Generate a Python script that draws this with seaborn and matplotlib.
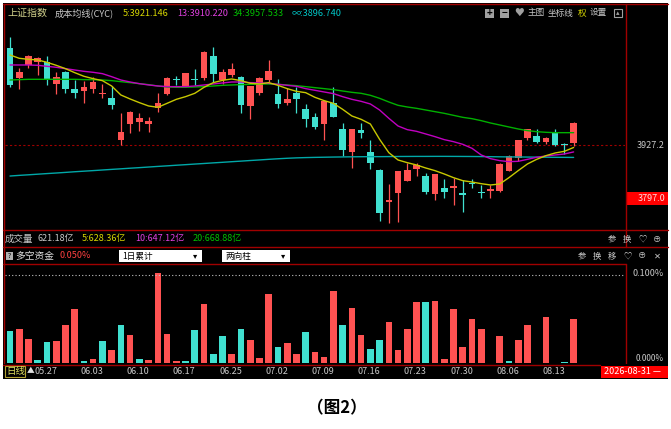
import numpy as np
import pandas as pd
import matplotlib
matplotlib.use("Agg")
import matplotlib.pyplot as plt
import matplotlib.transforms as mtransforms
from matplotlib.patches import Rectangle
from matplotlib.lines import Line2D
import seaborn as sns

# ---- values (上证指数, daily) ----
opens = [4166.4, 4092.7, 4123.8, 4132.0, 4132.0, 4076.3, 4105.8, 4064.0, 4059.9, 4064.8,
         4051.7, 4041.9, 3939.5, 3978.0, 3984.6, 3979.7, 4017.3, 4051.7, 4088.6, 4072.2,
         4090.2, 4091.0, 4146.7, 4086.9, 4099.2, 4095.1, 4023.9, 4055.8, 4086.9, 4051.7,
         4029.6, 4055.8, 4016.5, 3995.2, 3978.0, 4029.6, 3965.7, 3909.2, 3964.1, 3910.9,
         3865.0, 3788.0, 3810.1, 3838.8, 3867.5, 3851.9, 3806.9, 3820.8, 3822.4, 3810.1,
         3833.1, 3810.1, 3815.0, 3813.4, 3864.2, 3894.5, 3943.6, 3950.2, 3933.8, 3955.9,
         3929.7, 3931.3]
highs = [4191.8, 4115.6, 4148.0, 4142.6, 4145.9, 4105.8, 4109.9, 4086.9, 4085.3, 4095.1,
         4077.1, 4072.2, 4005.0, 4010.0, 4005.0, 3995.2, 4055.8, 4093.5, 4097.6, 4104.0,
         4113.2, 4157.5, 4167.2, 4113.2, 4129.5, 4096.0, 4073.0, 4095.1, 4136.1, 4088.6,
         4066.5, 4068.9, 4028.0, 4005.0, 4036.0, 4070.6, 3982.1, 3966.5, 3980.5, 3939.5,
         3867.5, 3830.6, 3864.0, 3882.2, 3882.2, 3859.3, 3857.0, 3842.9, 3845.3, 3841.2,
         3842.9, 3829.0, 3829.0, 3883.8, 3902.7, 3940.0, 3966.5, 3966.6, 3947.7, 3966.6,
         3931.3, 3983.0]
lows = [4070.6, 4064.8, 4115.6, 4099.2, 4074.7, 4052.6, 4054.2, 4043.5, 4031.3, 4055.8,
        4041.9, 4014.9, 3927.2, 3955.9, 3962.5, 3958.4, 4009.1, 4050.1, 4074.7, 4071.0,
        4074.7, 4086.9, 4082.9, 4077.1, 4095.1, 4005.0, 3990.3, 4050.1, 4082.9, 4017.3,
        4025.5, 4005.0, 3970.7, 3966.6, 3939.5, 3995.2, 3900.2, 3869.9, 3943.6, 3867.5,
        3741.3, 3736.4, 3738.9, 3838.0, 3851.1, 3806.9, 3792.1, 3796.2, 3779.8, 3763.4,
        3820.8, 3796.2, 3797.8, 3812.5, 3863.5, 3887.9, 3939.5, 3931.3, 3928.9, 3924.8,
        3905.1, 3924.8]
closes = [4074.7, 4107.4, 4145.9, 4140.2, 4089.4, 4094.3, 4064.8, 4054.2, 4070.6, 4081.2,
          4055.8, 4025.5, 3958.4, 4009.1, 3992.8, 3986.2, 4029.6, 4092.7, 4086.9, 4103.3,
          4086.9, 4156.6, 4101.7, 4105.8, 4114.8, 4026.3, 4072.2, 4091.0, 4108.2, 4028.0,
          4040.3, 4040.3, 3990.3, 3970.7, 4035.4, 3996.9, 3915.0, 3965.7, 3955.9, 3882.2,
          3761.0, 3792.9, 3863.4, 3865.8, 3878.1, 3810.9, 3856.0, 3810.9, 3826.5, 3804.4,
          3831.4, 3808.5, 3819.1, 3879.7, 3900.2, 3939.5, 3965.7, 3933.8, 3945.3, 3927.2,
          3928.1, 3982.1]

# 成本均线 (CYC)
cyc5 = [4148.4, 4140.2, 4137.7, 4136.1, 4130.4, 4123.0, 4114.8, 4105.0, 4096.0, 4090.2,
        4085.3, 4072.2, 4050.1, 4040.3, 4031.3, 4023.1, 4019.8, 4029.6, 4039.4, 4046.0,
        4054.2, 4068.9, 4080.4, 4086.1, 4089.4, 4085.3, 4078.8, 4077.1, 4080.4, 4073.8,
        4065.7, 4059.1, 4055.8, 4044.4, 4036.2, 4029.6, 4014.9, 3998.5, 3990.3, 3978.8,
        3941.2, 3908.4, 3890.4, 3883.8, 3878.1, 3870.7, 3864.2, 3856.0, 3847.0, 3839.6,
        3836.3, 3832.2, 3829.0, 3831.4, 3847.0, 3864.2, 3880.6, 3892.0, 3901.0, 3907.6,
        3911.7, 3921.1]
cyc13 = [4123.8, 4123.8, 4123.8, 4123.0, 4120.5, 4118.1, 4114.8, 4111.5, 4108.2, 4105.8,
         4102.5, 4095.1, 4086.9, 4082.0, 4077.9, 4074.7, 4072.2, 4070.6, 4070.6, 4070.6,
         4072.2, 4074.7, 4077.1, 4079.6, 4082.0, 4082.0, 4080.4, 4079.6, 4078.8, 4076.3,
         4073.8, 4071.4, 4065.7, 4061.6, 4057.5, 4053.4, 4046.0, 4039.4, 4034.5, 4028.0,
         4013.2, 3992.8, 3973.9, 3964.9, 3960.8, 3954.3, 3947.7, 3940.4, 3935.4, 3928.9,
         3919.1, 3902.7, 3893.7, 3888.8, 3886.3, 3887.1, 3892.0, 3897.1, 3900.2, 3902.7,
         3905.1, 3910.2]
cyc34 = [4086.9, 4087.8, 4088.6, 4088.6, 4088.6, 4088.6, 4088.6, 4088.6, 4087.8, 4087.8,
         4086.9, 4085.3, 4082.9, 4080.4, 4077.9, 4075.5, 4072.2, 4069.8, 4068.9, 4068.9,
         4069.8, 4070.6, 4072.2, 4073.8, 4074.7, 4075.5, 4076.3, 4077.1, 4077.1, 4076.3,
         4074.7, 4073.0, 4070.6, 4068.1, 4065.7, 4063.2, 4059.9, 4056.6, 4054.2, 4049.3,
         4041.9, 4032.9, 4024.7, 4020.6, 4017.3, 4013.2, 4009.1, 4005.0, 4000.1, 3995.2,
         3991.9, 3987.0, 3981.3, 3976.4, 3971.5, 3966.6, 3962.5, 3960.0, 3958.4, 3957.5,
         3957.5, 3957.5]
cyc_inf = [3851.0, 3852.6, 3854.0, 3855.5, 3857.0, 3858.4, 3859.9, 3861.5, 3862.9, 3864.3,
           3865.8, 3867.3, 3868.7, 3870.2, 3871.6, 3873.1, 3874.6, 3876.0, 3877.5, 3878.9,
           3880.4, 3881.8, 3883.3, 3884.7, 3886.2, 3887.6, 3889.1, 3890.5, 3892.0, 3893.4,
           3894.6, 3895.6, 3896.3, 3896.8, 3897.2, 3897.6, 3897.9, 3898.2, 3898.4, 3898.6,
           3898.6, 3898.8, 3899.0, 3899.1, 3899.2, 3899.2, 3899.3, 3899.3, 3899.2, 3899.1,
           3899.0, 3898.8, 3898.5, 3898.2, 3898.0, 3897.8, 3897.6, 3897.4, 3897.2, 3897.0,
           3896.9, 3896.7]

# 多空资金 (%), red > 0, cyan < 0
flow = [-0.037, 0.039, 0.027, -0.004, -0.024, 0.025, 0.043, 0.061, -0.003, 0.005,
        -0.025, 0.015, -0.043, 0.032, -0.005, 0.004, 0.102, 0.033, 0.003, -0.003,
        -0.038, 0.067, -0.010, -0.031, 0.011, -0.039, 0.026, 0.006, 0.079, -0.019,
        0.023, 0.010, -0.036, 0.013, 0.007, 0.082, -0.043, 0.063, 0.032, -0.016,
        -0.026, 0.047, 0.015, 0.039, 0.070, -0.069, 0.071, 0.005, 0.062, 0.019,
        0.050, 0.039, -0.0005, 0.031, -0.003, 0.026, 0.043, 0.0005, 0.053, -0.0005,
        -0.001, 0.050]

date_ticks = [3, 8, 13, 18, 23, 28, 33, 38, 43, 48, 53, 58]
date_labels = ["05.27", "06.03", "06.10", "06.17", "06.25", "07.02",
               "07.09", "07.16", "07.23", "07.30", "08.06", "08.13"]

price_ref = 3927.2
price_cursor = 3797.0

RED = "#ff5252"
CYAN = "#40e0d0"
FRAME = "#a00000"
GREY = "#c8c8c8"

sns.set_theme(style="white")
plt.rcParams["font.family"] = ["Noto Sans CJK SC", "DejaVu Sans"]
plt.rcParams["axes.unicode_minus"] = False

W, H = 671, 429
fig = plt.figure(figsize=(W / 100, H / 100), dpi=100, facecolor="white")


def fx(x):
    return x / W


def fy(y):
    return 1 - y / H


def put(x, y, s, color=GREY, size=7, ha="left", z=3, **kw):
    fig.text(fx(x), fy(y), s, color=color, fontsize=size, ha=ha, va="center",
             zorder=z, **kw)


def box(x0, y0, x1, y1, fc, ec="none", z=-5, lw=0.8):
    fig.add_artist(Rectangle((fx(x0), fy(y1)), fx(x1) - fx(x0), fy(y0) - fy(y1),
                             transform=fig.transFigure, facecolor=fc,
                             edgecolor=ec, lw=lw, zorder=z))


def hline(y, x0, x1, z=2):
    fig.add_artist(Line2D([fx(x0), fx(x1)], [fy(y), fy(y)], transform=fig.transFigure,
                          color=FRAME, lw=1.0, zorder=z))


def vline(x, y0, y1, z=2):
    fig.add_artist(Line2D([fx(x), fx(x)], [fy(y0), fy(y1)], transform=fig.transFigure,
                          color=FRAME, lw=1.0, zorder=z))


# black terminal background and frame
box(3, 3, 668, 379, "black", z=-10)
hline(4, 3, 668)
vline(3.5, 4, 364)
vline(625.5, 4, 247)
vline(625.5, 264, 364)
hline(230, 3, 668)
hline(247, 3, 668)
hline(264, 3, 626)

# ---- main price panel ----
ax = fig.add_axes([fx(5), fy(230), 620 / W, 210 / H])
days = np.arange(len(opens))
o = np.array(opens)
c = np.array(closes)
cols = np.where(c >= o, RED, CYAN)
ax.vlines(days, lows, highs, colors=cols, lw=0.9, zorder=2)
body_lo = np.minimum(o, c)
body_h = np.maximum(np.abs(c - o), 2.5)
ax.bar(days, body_h, bottom=body_lo, width=0.72, color=cols, lw=0, zorder=3)

for vals, colr in [(cyc_inf, "#00a8a8"), (cyc34, "#00b000"),
                   (cyc13, "#c000c0"), (cyc5, "#c8c800")]:
    sns.lineplot(x=days, y=vals, color=colr, lw=1.0, ax=ax, zorder=4)

ax.axhline(price_ref, color=FRAME, lw=0.8, ls=(0, (2, 2)), zorder=1)
ax.set_xlim(-0.54, 66.56)
ax.set_ylim(3718.4, 4234.3)
ax.axis("off")

# right price labels
put(665, 145, f"{price_ref:.1f}", color=GREY, size=6.5, ha="right")
box(626, 192, 668, 205, "#ff0000", z=-4)
put(665, 198.5, f"{price_cursor:.1f}", color="#ffe0e0", size=6.5, ha="right")

# header row
put(7, 13, "上证指数", color="#d2d28c", size=7.2)
put(55, 13, "成本均线(CYC)", color=GREY, size=6.6)
put(123, 13, "5:3921.146", color="#d8d800", size=6.6)
put(177, 13, "13:3910.220", color="#e040e0", size=6.6)
put(233, 13, "34:3957.533", color="#00c000", size=6.6)
put(292, 13, "∞:3896.740", color="#00c8c8", size=6.6)

box(485, 8.5, 494, 17.5, "#a0a0a0", z=2)
put(489.5, 12.6, "+", color="black", size=7, ha="center", fontweight="bold")
box(500, 8.5, 509, 17.5, "#a0a0a0", z=2)
put(504.5, 12.6, "−", color="black", size=7, ha="center", fontweight="bold")
put(514, 13, "♥", color="#a0a0a0", size=7)
put(528, 13, "主图", color=GREY, size=6.2)
put(548, 13, "坐标线", color=GREY, size=6.2)
put(578, 13, "权", color="#d8d800", size=6.2)
put(590, 13, "设置", color=GREY, size=6.2)
box(614, 9, 622, 17, "none", ec="#a0a0a0", z=2, lw=0.8)
put(618, 13, "▴", color="#a0a0a0", size=5, ha="center")

# volume row
put(5, 239, "成交量", color=GREY, size=6.8)
put(38, 239, "621.18亿", color=GREY, size=6.5)
put(82, 239, "5:628.36亿", color="#d8d800", size=6.5)
put(135, 239, "10:647.12亿", color="#e040e0", size=6.5)
put(193, 239, "20:668.88亿", color="#00c000", size=6.5)
for x, s in [(608, "参"), (623, "换"), (638, "♡"), (653, "⊕")]:
    put(x, 239, s, color=GREY, size=6)

# 多空资金 row
box(6, 252, 13, 260, "#b0b0b0", z=2)
put(9.5, 256, "?", color="black", size=5, ha="center")
put(15, 256, "多空资金", color="#e0e0e0", size=7)
put(60, 256, "0.050%", color="#ff4040", size=6.5)
box(119, 250, 202, 262, "white", z=2)
put(122, 256, "1日累计", color="black", size=6.2)
put(193, 256, "▾", color="black", size=6)
box(222, 250, 290, 262, "white", z=2)
put(225, 256, "两向柱", color="black", size=6.2)
put(281, 256, "▾", color="black", size=6)
for x, s in [(578, "参"), (593, "换"), (608, "移"), (623, "♡"), (638, "⊕"), (654, "✕")]:
    put(x, 256, s, color=GREY, size=6)

# ---- 多空资金 bars ----
ax2 = fig.add_axes([fx(5), fy(363.3), 620 / W, 99.3 / H])
flow_arr = np.array(flow)
df = pd.DataFrame({"day": days, "size": np.abs(flow_arr),
                   "side": np.where(flow_arr >= 0, "多", "空")})
sns.barplot(data=df, x="day", y="size", hue="side", palette={"多": RED, "空": CYAN},
            native_scale=True, width=0.72, dodge=False, legend=False,
            saturation=1, linewidth=0, errorbar=None, ax=ax2)
ax2.axhline(0.1, color="#c0c0c0", lw=0.8, ls=(0, (1, 2)))
ax2.set_xlim(-0.54, 66.56)
ax2.set_ylim(0, 0.1125)
ax2.axis("off")
put(664, 274, "0.100%", color=GREY, size=6.5, ha="right")
put(664, 358.5, "0.000%", color=GREY, size=6, ha="right")

# ---- date bar ----
box(3, 364, 668, 379, "black", z=4)
fig.add_artist(Line2D([fx(3), fx(600)], [fy(364.5), fy(364.5)], transform=fig.transFigure,
                      color=FRAME, lw=1.0, zorder=5))
box(5, 366, 25, 377, "none", ec="#b0a030", z=5, lw=0.8)
put(6, 371.5, "日线", color="#e0e060", size=6.8, z=6)
put(27, 371.5, "▲", color="#e0e0e0", size=5.5, z=6)
tr = mtransforms.blended_transform_factory(ax2.transData, fig.transFigure)
for d, lab in zip(date_ticks, date_labels):
    fig.text(d - 0.36, fy(371.5), lab, transform=tr, color=GREY, fontsize=6.5,
             ha="left", va="center", zorder=6)
box(601, 366, 668, 378, "#ff0000", z=5)
put(604, 372, "2026-08-31 —", color="white", size=6.5, z=6)

# caption
put(337, 408, "（图2）", color="black", size=12, ha="center", fontweight="bold")

fig.savefig("out.png", dpi=100, facecolor="white")
